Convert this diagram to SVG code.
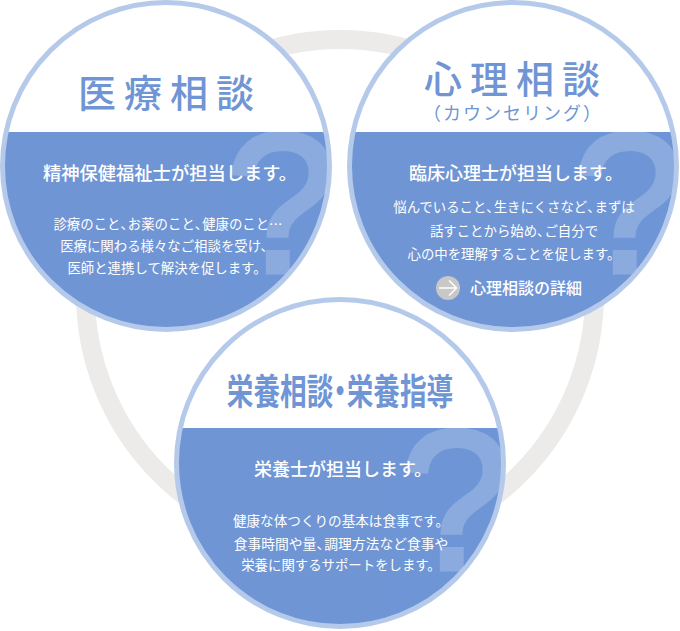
<svg xmlns="http://www.w3.org/2000/svg" width="680" height="631" viewBox="0 0 680 631">
<style>
text{font-family:"Noto Sans CJK JP","Noto Sans",sans-serif;text-anchor:middle}
.disc{fill:#fff}
.rim{fill:none;stroke:#b5caea;stroke-width:5}
.band{fill:#6f95d5}
.q{font-family:"Liberation Sans",sans-serif;font-weight:400;font-size:198px;fill:#fff;stroke:#fff;stroke-width:5;opacity:.2;text-anchor:start}
.title{fill:#6f95d5;font-weight:500}
.lead{fill:#fff;font-size:18px;font-weight:500}
.body{fill:#fff;font-size:13.400px}
.tc{letter-spacing:-6px}
</style>
<defs>
<clipPath id="c1c"><circle cx="166" cy="166" r="164"/></clipPath>
<clipPath id="c2c"><circle cx="513" cy="166" r="164"/></clipPath>
<clipPath id="c3c"><circle cx="340" cy="463" r="164"/></clipPath>
</defs>
<g id="connectors"><circle cx="340" cy="294" r="254.500" fill="none" stroke="#ecebe9" stroke-width="19"/></g>
<g id="node-iryo">
<circle class="disc" cx="166" cy="166" r="164"/>
<g clip-path="url(#c1c)"><rect class="band" x="0" y="132" width="332" height="200"/>
<text class="q" x="226" y="272">?</text></g>
<circle class="rim" cx="166" cy="166" r="163.500"/>
<text class="title" x="170" y="107" font-size="38" letter-spacing="8">医療相談</text>
<text class="lead" x="170" y="180" style="font-size:18.300px">精神保健福祉士が担当します。</text>
<text class="body" x="168" y="229">診療のこと<tspan class="tc">、</tspan>お薬のこと<tspan class="tc">、</tspan>健康のこと…</text>
<text class="body" x="167" y="251">医療に関わる様々なご相談を受け、</text>
<text class="body" x="167" y="273">医師と連携して解決を促します。</text>
</g>
<g id="node-shinri">
<circle class="disc" cx="513" cy="166" r="164"/>
<g clip-path="url(#c2c)"><rect class="band" x="347" y="132" width="332" height="200"/>
<text class="q" x="573" y="272">?</text></g>
<circle class="rim" cx="513" cy="166" r="163.500"/>
<text class="title" x="516" y="93" font-size="38" letter-spacing="8">心理相談</text>
<text x="513" y="120" font-size="18" letter-spacing="2" fill="#6f95d5">（カウンセリング）</text>
<text class="lead" x="516" y="180">臨床心理士が担当します。</text>
<text class="body" x="514" y="212">悩んでいること<tspan class="tc">、</tspan>生きにくさなど<tspan class="tc">、</tspan>まずは</text>
<text class="body" x="514" y="236">話すことから始め<tspan class="tc">、</tspan>ご自分で</text>
<text class="body" x="514" y="259">心の中を理解することを促します。</text>
<circle cx="448" cy="288" r="12" fill="#c8c8c8"/>
<path d="M439 288H456M449 280.500L456.500 288L449 295.500" fill="none" stroke="#fff" stroke-width="1.500"/>
<text x="526" y="294" font-size="16" font-weight="500" fill="#fff">心理相談の詳細</text>
</g>
<g id="node-eiyo">
<circle class="disc" cx="340" cy="463" r="164"/>
<g clip-path="url(#c3c)"><rect class="band" x="174" y="428" width="332" height="202"/>
<text class="q" x="400" y="569">?</text></g>
<circle class="rim" cx="340" cy="463" r="163.500"/>
<text class="title" transform="translate(340 405) scale(.74 1)" font-size="36" style="font-weight:700">栄養相談<tspan dx="-9" letter-spacing="-9">・</tspan>栄養指導</text>
<text class="lead" x="343" y="476">栄養士が担当します。</text>
<text class="body" x="341" y="526" style="font-size:13.600px">健康な体つくりの基本は食事です。</text>
<text class="body" x="341" y="549" style="font-size:13.800px">食事時間や量<tspan class="tc">、</tspan>調理方法など食事や</text>
<text class="body" x="341" y="570">栄養に関するサポートをします。</text>
</g>
</svg>
